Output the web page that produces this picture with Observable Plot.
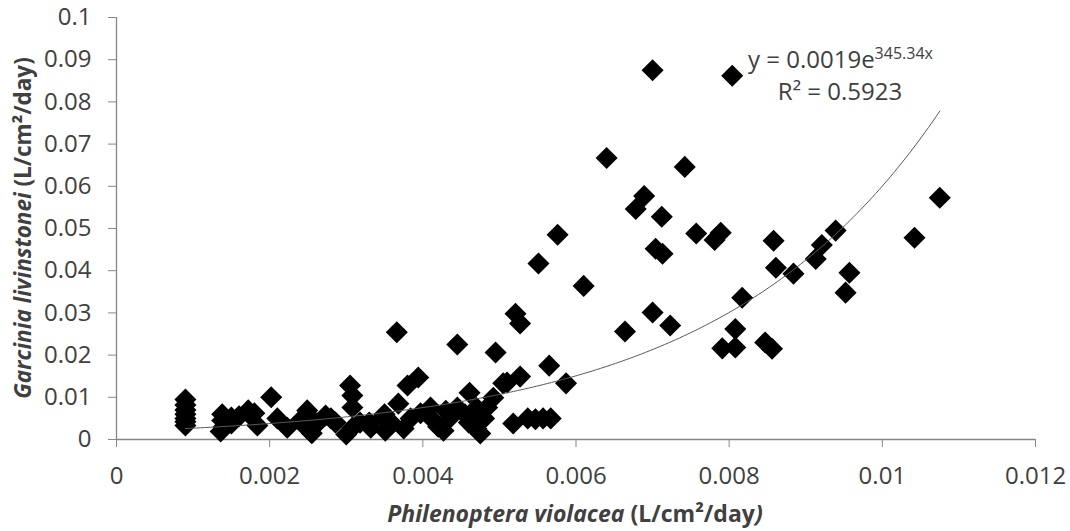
<!DOCTYPE html>
<html><head><meta charset="utf-8">
<script src="https://cdn.jsdelivr.net/npm/d3@7"></script>
<script src="https://cdn.jsdelivr.net/npm/@observablehq/plot@0.6"></script>
<style>body{margin:0;background:#fff;} svg{display:block;}</style>
</head><body><div id="chart"></div>
<script>
// Philenoptera violacea (x) vs Garcinia livinstonei (y), L/cm2/day
const xValues = [
  0.0009,0.0009,0.0009,0.0009,0.0009,0.0009,0.0009,
  0.00138,0.00138,0.00136,0.0014,0.0015,0.0015,0.0016,
  0.00172,0.00175,0.00184,0.0018,
  0.00202,0.0021,0.00223,0.0024,0.00249,0.00249,0.0025,0.00255,0.00262,0.00273,0.00286,0.0028,
  0.00305,0.00308,0.00308,0.00308,0.0030,0.00318,0.00332,0.00347,0.0036,0.00351,0.00368,0.0038,0.00394,
  0.00384,0.00375,0.00397,0.0041,0.00414,0.00427,0.00436,0.00445,0.0043,0.00455,0.0046,0.0047,0.0048,
  0.0047,0.00475,0.00466,0.00475,0.00484,0.00492,0.00505,0.00461,0.0035,0.0033,0.0042,
  0.00518,0.00537,0.00547,0.00557,0.00567,
  0.0070,0.00804,0.0064,0.00742,0.00689,0.00678,0.00712,0.00757,0.00789,0.00781,0.00704,0.00713,
  0.00576,0.00551,0.0061,0.00858,0.00861,0.00884,0.00817,0.00939,0.00921,0.00913,0.00957,0.00952,
  0.01075,0.01042,0.0070,0.00723,0.00664,0.00808,0.00791,0.00808,0.00847,0.00856,
  0.00521,0.00527,0.00495,0.00565,0.00587,0.00527,0.0051,0.00366,0.00445
];
const yValues = [
  0.0095,0.0082,0.0070,0.0060,0.0050,0.0042,0.0033,
  0.0060,0.0045,0.0019,0.0030,0.0052,0.0038,0.0055,
  0.0069,0.0057,0.0033,0.0062,
  0.0100,0.0050,0.0028,0.0045,0.0069,0.0026,0.0058,0.0015,0.0038,0.0057,0.0040,0.0050,
  0.0128,0.0104,0.0076,0.0028,0.0012,0.0040,0.0028,0.0052,0.0038,0.0021,0.0085,0.0128,0.0147,
  0.0050,0.0026,0.0062,0.0076,0.0045,0.0021,0.0052,0.0076,0.0068,0.0060,0.0040,0.0025,0.0050,
  0.0075,0.0014,0.0045,0.0062,0.0076,0.0099,0.0133,0.0111,0.0060,0.0040,0.0030,
  0.0038,0.0050,0.0048,0.0050,0.0050,
  0.0875,0.0862,0.0667,0.0646,0.0577,0.0546,0.0528,0.0488,0.0490,0.0473,0.0452,0.0440,
  0.0485,0.0417,0.0364,0.0471,0.0407,0.0393,0.0336,0.0495,0.0461,0.0428,0.0395,0.0348,
  0.0573,0.0478,0.0301,0.0270,0.0256,0.0262,0.0216,0.0218,0.0230,0.0215,
  0.0298,0.0275,0.0206,0.0175,0.0133,0.0149,0.0135,0.0254,0.0225
];
const xTicks = [0,0.002,0.004,0.006,0.008,0.01,0.012];
const xTickLabels = ["0","0.002","0.004","0.006","0.008","0.01","0.012"];
const yTicks = [0,0.01,0.02,0.03,0.04,0.05,0.06,0.07,0.08,0.09,0.1];
const yTickLabels = ["0","0.01","0.02","0.03","0.04","0.05","0.06","0.07","0.08","0.09","0.1"];
// Exponential trendline as printed on the chart: y = 0.0019 e^(345.34x)
const trendA = 0.0019;
const trendB = 345.34;
const equationText = ["y = 0.0019e", "345.34x"];
const r2Text = "R² = 0.5923";

const points = xValues.map((x, i) => ({x, y: yValues[i]}));
const [xMin, xMax] = d3.extent(xValues);
const trend = d3.range(0, 201).map(i => {
  const x = xMin + (xMax - xMin) * i / 200;
  return {x, y: trendA * Math.exp(trendB * x)};
});

const diamond = {
  draw(ctx, size) {
    const r = Math.sqrt(size / 2);
    ctx.moveTo(0, -r); ctx.lineTo(r, 0); ctx.lineTo(0, r); ctx.lineTo(-r, 0); ctx.closePath();
  }
};

const FONT = "'Open Sans', sans-serif";
const axisGray = "#868686";
const textGray = "#404040";

const svg = Plot.plot({
  width: 1070, height: 531,
  marginLeft: 116, marginRight: 35, marginTop: 17, marginBottom: 92,
  style: {fontFamily: FONT, fontSize: "24px", background: "#fff"},
  x: {domain: [0, 0.012]},
  y: {domain: [0, 0.1]},
  marks: [
    Plot.ruleY([0], {stroke: axisGray, strokeWidth: 1.3}),
    Plot.ruleX([0], {stroke: axisGray, strokeWidth: 1.3}),
    Plot.axisX({ticks: xTicks, tickFormat: (d) => xTickLabels[xTicks.indexOf(d)], tickSize: 8, tickPadding: 19, fontSize: 24, label: null, stroke: axisGray, fill: textGray}),
    Plot.axisY({ticks: yTicks, tickFormat: (d) => yTickLabels[yTicks.indexOf(d)], tickSize: 8, tickPadding: 17, fontSize: 24, label: null, stroke: axisGray, fill: textGray}),
    Plot.dot(points, {x: "x", y: "y", symbol: diamond, r: 8.8, fill: "#000", stroke: null}),
    Plot.line(trend, {x: "x", y: "y", stroke: "#5a5a5a", strokeWidth: 1})
  ]
});

const s = d3.select(svg);
// x title
const xt = s.append("text").attr("x", 575).attr("y", 522).attr("text-anchor", "middle")
  .attr("font-family", FONT).attr("font-size", 23).attr("font-weight", "bold").attr("fill", textGray);
xt.append("tspan").attr("font-style", "italic").text("Philenoptera violacea");
xt.append("tspan").text(" (L/cm²/day");
xt.append("tspan").attr("font-style", "italic").text(")");
// y title
const yt = s.append("text").attr("transform", "translate(31,228) rotate(-90)").attr("text-anchor", "middle")
  .attr("font-family", FONT).attr("font-size", 22.5).attr("font-weight", "bold").attr("fill", textGray);
yt.append("tspan").attr("font-style", "italic").text("Garcinia livinstonei");
yt.append("tspan").text(" (L/cm²/day)");
// equation
const eq = s.append("text").attr("x", 748).attr("y", 68).attr("text-anchor", "start")
  .attr("font-family", FONT).attr("font-size", 24).attr("fill", textGray);
eq.append("tspan").text(equationText[0]);
eq.append("tspan").attr("font-size", 16).attr("dy", -9).text(equationText[1]);
s.append("text").attr("x", 840).attr("y", 100).attr("text-anchor", "middle")
  .attr("font-family", FONT).attr("font-size", 24).attr("fill", textGray).text(r2Text);

document.getElementById("chart").appendChild(svg);
</script>
</body></html>
